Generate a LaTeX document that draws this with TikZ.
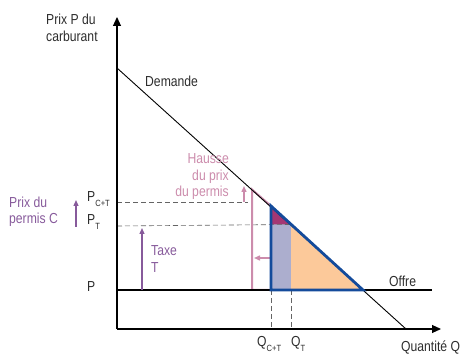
\documentclass[tikz,border=0pt]{standalone}
\usepackage{fontspec}
\setmainfont{Liberation Sans}[FakeStretch=0.84]
\usetikzlibrary{arrows.meta}
\definecolor{pinkc}{RGB}{204,140,172}
\definecolor{purplec}{RGB}{135,90,155}
\definecolor{bluec}{RGB}{20,75,155}
\definecolor{orangec}{RGB}{252,201,154}
\definecolor{lavc}{RGB}{172,174,206}
\definecolor{magc}{RGB}{165,55,115}
\definecolor{dashc}{RGB}{100,100,100}
\definecolor{textc}{RGB}{45,45,45}
\newcommand{\sbx}[1]{\raisebox{-0.6ex}{\fontsize{9}{9}\selectfont #1}}
\begin{document}
\begin{tikzpicture}[x=1pt,y=-1pt,
  lbl/.style={font=\fontsize{14.5}{16.5}\selectfont, inner sep=0pt, text=textc},
  axis/.style={line width=1.1pt, -{Triangle[length=9pt,width=8pt]}},
  dsh/.style={dashc, dash pattern=on 5pt off 3pt, line width=0.6pt},
  parr/.style={purplec, line width=1.3pt, -{Triangle[length=6pt,width=5pt]}},
  karr/.style={pinkc, line width=1.4pt, -{Triangle[length=6pt,width=5pt]}}]
\useasboundingbox (0,0) rectangle (461,355);
% coordinates
\coordinate (O) at (117,329);
\coordinate (Ytop) at (117,17);
\coordinate (Xend) at (441,329);
\coordinate (D0) at (117,68);
\coordinate (D1) at (406,329);
\coordinate (S0) at (117,290);
\coordinate (S1) at (432,290);
\coordinate (A) at (271,206);
\coordinate (B) at (271,290);
\coordinate (C) at (363,290);
\coordinate (E) at (291,224.5);
\coordinate (F) at (271,224.5);
\coordinate (G) at (291,290);
% fills
\fill[orangec] (A) -- (B) -- (C) -- cycle;
\fill[lavc] (F) -- (B) -- (G) -- (E) -- cycle;
\fill[magc] (A) -- (F) -- (E) -- cycle;
% dashed lines
\coordinate (PCT) at (117,202);
\coordinate (PT) at (117,226);
\draw[dsh] (PCT) -- (248,202);
\draw[dsh] (PT) -- (E);
\coordinate (QCT) at (271,329);
\coordinate (QT) at (291,329);
\draw[dsh] (B) -- (QCT);
\draw[dsh] (G) -- (QT);
% pink polygon
\coordinate (H) at (252,189.5);
\coordinate (Hb) at (252,290);
\draw[pinkc, line width=2pt] (A) -- (H) -- (Hb) -- (B);
\coordinate (ka) at (244,202);
\coordinate (kb) at (244,186);
\draw[karr] (ka) -- (kb);
\coordinate (la) at (270,258);
\coordinate (lb) at (254,258);
\draw[karr] (la) -- (lb);
% axes and curves
\draw[line width=1.1pt] (S0) -- (S1);
\draw[line width=0.9pt] (D0) -- (D1);
\draw[axis] (O) -- (Ytop);
\draw[axis] (O) -- (Xend);
% blue triangle
\draw[bluec, line width=2.8pt, line join=miter] (A) -- (B) -- (C) -- cycle;
% purple arrows
\coordinate (pa) at (76,227);
\coordinate (pb) at (76,200);
\draw[parr] (pa) -- (pb);
\coordinate (ta) at (142,290);
\coordinate (tb) at (142,228);
\draw[parr] (ta) -- (tb);
% labels
\node[lbl, anchor=west, align=left] (ylab) at (46,28) {Prix P du\\carburant};
\node[lbl, anchor=west] (dem) at (145,81) {Demande};
\node[lbl, anchor=east, align=right, text=pinkc] (hau) at (229,177) {Hausse\\du prix\\du permis};
\node[lbl, anchor=west, align=left, text=purplec] (pdp) at (9,212) {Prix du\\permis C};
\node[lbl, anchor=west] (pct) at (87,199) {P\sbx{C+T}};
\node[lbl, anchor=west] (pt) at (87,222) {P\sbx{T}};
\node[lbl, anchor=west] (p) at (87,287) {P};
\node[lbl, anchor=west, align=left, text=purplec] (tax) at (151,259) {Taxe\\T};
\node[lbl, anchor=west] (off) at (389,281) {Offre};
\node[lbl, anchor=west] (qct) at (257,344) {Q\sbx{C+T}};
\node[lbl, anchor=west] (qt) at (291,344) {Q\sbx{T}};
\node[lbl, anchor=west] (qq) at (401,348) {Quantité Q};
\end{tikzpicture}
\end{document}
